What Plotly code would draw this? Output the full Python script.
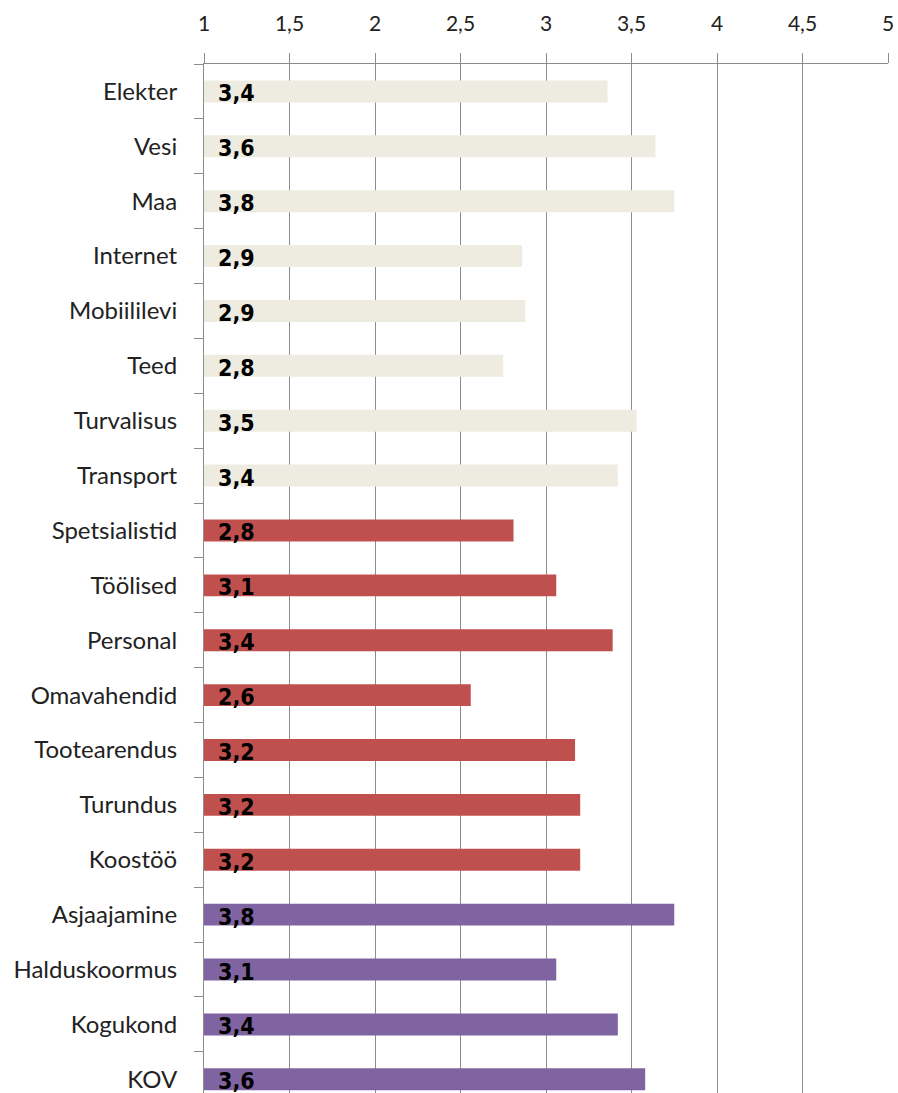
import plotly.graph_objects as go

categories = ["Elekter", "Vesi", "Maa", "Internet", "Mobiililevi", "Teed", "Turvalisus",
              "Transport", "Spetsialistid", "Töölised", "Personal", "Omavahendid",
              "Tootearendus", "Turundus", "Koostöö", "Asjaajamine", "Halduskoormus",
              "Kogukond", "KOV"]
values = [3.36, 3.64, 3.75, 2.86, 2.88, 2.75, 3.53, 3.42, 2.81, 3.06, 3.39, 2.56,
          3.17, 3.20, 3.20, 3.75, 3.06, 3.42, 3.58]
groups = ["infra"] * 8 + ["ress"] * 7 + ["adm"] * 4
group_colors = {"infra": "#EEECE1", "ress": "#C0504D", "adm": "#8064A2"}
x_ticks = [1, 1.5, 2, 2.5, 3, 3.5, 4, 4.5, 5]
x_tick_labels = ["1", "1,5", "2", "2,5", "3", "3,5", "4", "4,5", "5"]
BASE = 1

fig = go.Figure()
fig.add_trace(go.Bar(
    y=categories,
    x=[v - BASE for v in values],
    base=BASE,
    orientation="h",
    width=0.4,
    marker=dict(color=[group_colors[g] for g in groups], line=dict(width=0)),
    hoverinfo="skip",
))

for c, v in zip(categories, values):
    fig.add_annotation(
        x=BASE, y=c, xref="x", yref="y",
        text="<b>" + f"{v:.1f}".replace(".", ",") + "</b>",
        showarrow=False, xanchor="left", yanchor="middle",
        xshift=12, yshift=-2,
        font=dict(family="DejaVu Sans Condensed, DejaVu Sans, sans-serif", size=23, color="#000000"),
    )

fig.update_layout(
    width=898, height=1093,
    margin=dict(l=204, r=10, t=64, b=0),
    plot_bgcolor="white", paper_bgcolor="white",
    showlegend=False,
)
fig.update_xaxes(
    side="top", range=[1, 5], automargin=False,
    tickvals=x_ticks, ticktext=x_tick_labels,
    showgrid=True, gridcolor="#8c8c8c", gridwidth=1,
    showline=True, linecolor="#8c8c8c", linewidth=1,
    ticks="outside", ticklen=10, tickcolor="#8c8c8c",
    ticklabelstandoff=14, ticklabeloverflow="allow",
    zeroline=False,
    tickfont=dict(family="Lato, Open Sans, sans-serif", size=21, color="#222222"),
)
fig.update_yaxes(
    type="category", categoryorder="array", categoryarray=categories,
    range=[18.25, -0.5], automargin=False,
    showgrid=False,
    showline=True, linecolor="#8c8c8c", linewidth=1,
    ticks="outside", ticklen=9, tickcolor="#8c8c8c", tickson="boundaries",
    ticklabelstandoff=21,
    tickfont=dict(family="Lato, Open Sans, sans-serif", size=24, color="#222222"),
)

fig.write_html(
    "out.html",
    config={"displayModeBar": False},
    post_script="document.body.style.margin='0';document.body.style.overflow='hidden';",
)
